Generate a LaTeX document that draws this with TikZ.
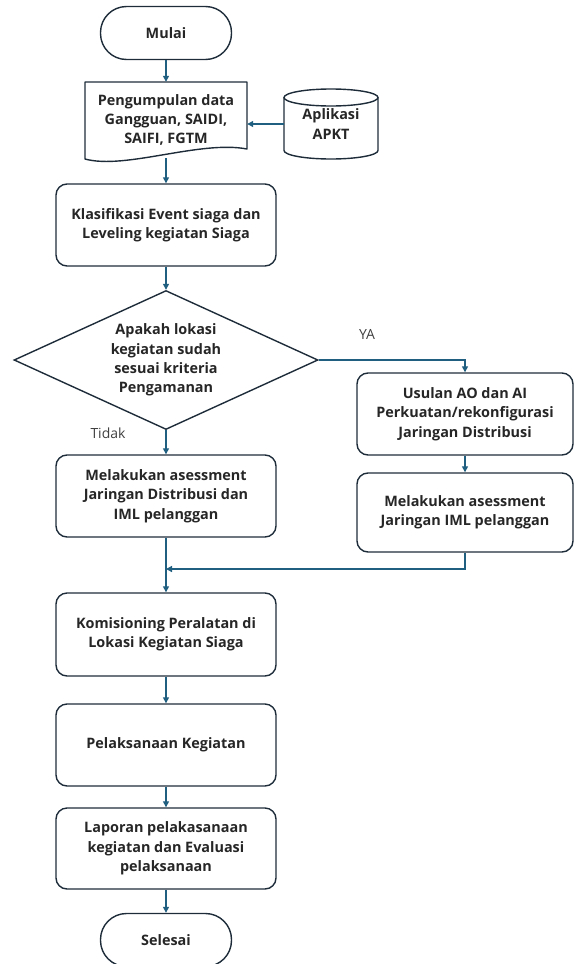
\documentclass[tikz,border=0pt]{standalone}
\usepackage{fontspec}
\setmainfont{Open Sans}
\usetikzlibrary{shapes.geometric,arrows.meta}
\definecolor{boxc}{HTML}{1E2C3A}
\definecolor{arrc}{HTML}{215F80}
\definecolor{labc}{HTML}{404040}
\tikzset{
  txt/.style={font=\fontsize{14.4}{19.3}\selectfont\bfseries, align=center, text=black!85},
  box/.style={txt, draw=boxc, line width=1.4pt, rounded corners=11pt, minimum width=220pt, inner sep=0pt},
  term/.style={txt, draw=boxc, line width=1.4pt, rounded corners=26pt, minimum width=131pt, minimum height=53pt},
  arr/.style={draw=arrc, line width=1.3pt, -{Triangle[length=6pt,width=6pt]}},
  lab/.style={font=\fontsize{14}{16}\selectfont, text=labc}
}
\begin{document}
\begin{tikzpicture}[x=1pt,y=-1pt]
\useasboundingbox (0,0) rectangle (574,964);
% start
\node[term] (mulai) at (166,33) {Mulai};
% document shape
\draw[boxc, line width=1.4pt, line join=round] (85,82) -- (247,82) -- (247,149)
  .. controls (200,140) and (125,170) .. (85,159) -- cycle;
\node[txt, minimum width=162pt, minimum height=76pt, inner sep=0pt] (doc) at (166,120) {Pengumpulan data\\Gangguan, SAIDI,\\SAIFI, FGTM};
% cylinder
\draw[boxc, line width=1.4pt] (331,97.5) ellipse [x radius=47pt, y radius=8.5pt];
\draw[boxc, line width=1.4pt] (284,97.5) -- (284,150.5) arc[start angle=180, end angle=360, x radius=47pt, y radius=8.5pt] -- (378,97.5);
\node[txt, minimum width=94pt, minimum height=70pt, inner sep=0pt] (apkt) at (331,124) {Aplikasi\\APKT};
% boxes
\node[box, minimum height=82pt] (klas) at (166,225) {Klasifikasi Event siaga dan\\Leveling kegiatan Siaga};
\node[txt, draw=boxc, line width=1.4pt, diamond, aspect=2.19, minimum width=304pt, minimum height=139pt, inner sep=0pt] (dec) at (166,360) {Apakah lokasi\\kegiatan sudah\\sesuai kriteria\\Pengamanan};
\node[box, minimum width=216pt, minimum height=82pt] (usul) at (465,414) {Usulan AO dan AI\\Perkuatan/rekonfigurasi\\Jaringan Distribusi};
\node[box, minimum width=216pt, minimum height=79pt] (iml) at (465,512.5) {Melakukan asessment\\Jaringan IML pelanggan};
\node[box, minimum height=82pt] (mel) at (166,496) {Melakukan asessment\\Jaringan Distribusi dan\\IML pelanggan};
\node[box, minimum height=83pt] (kom) at (166,634.5) {Komisioning Peralatan di\\Lokasi Kegiatan Siaga};
\node[box, minimum height=82pt] (pel) at (166,745) {Pelaksanaan Kegiatan};
\node[box, minimum height=81pt] (lap) at (166,848.5) {Laporan pelakasanaan\\kegiatan dan Evaluasi\\pelaksanaan};
\node[term] (sel) at (166,940) {Selesai};
% labels
\node[lab] (ya) at (367,334) {YA};
\node[lab] (tdk) at (108,433) {Tidak};
% connectors
\coordinate (merge) at (166,569);
\draw[arr] (mulai.south) -- (doc.north);
\draw[arr] (apkt.west) -- (apkt.west -| doc.east);
\draw[arr] (doc.south) -- (klas.north);
\draw[arr] (klas.south) -- (dec.north);
\draw[arr] (dec.east) -| (usul.north);
\draw[arr] (usul.south) -- (iml.north);
\draw[arr] (dec.south) -- (mel.north);
\draw[arr] (iml.south) |- (merge);
\draw[arr] (mel.south) -- (kom.north);
\draw[arr] (kom.south) -- (pel.north);
\draw[arr] (pel.south) -- (lap.north);
\draw[arr] (lap.south) -- (sel.north);
\end{tikzpicture}
\end{document}
